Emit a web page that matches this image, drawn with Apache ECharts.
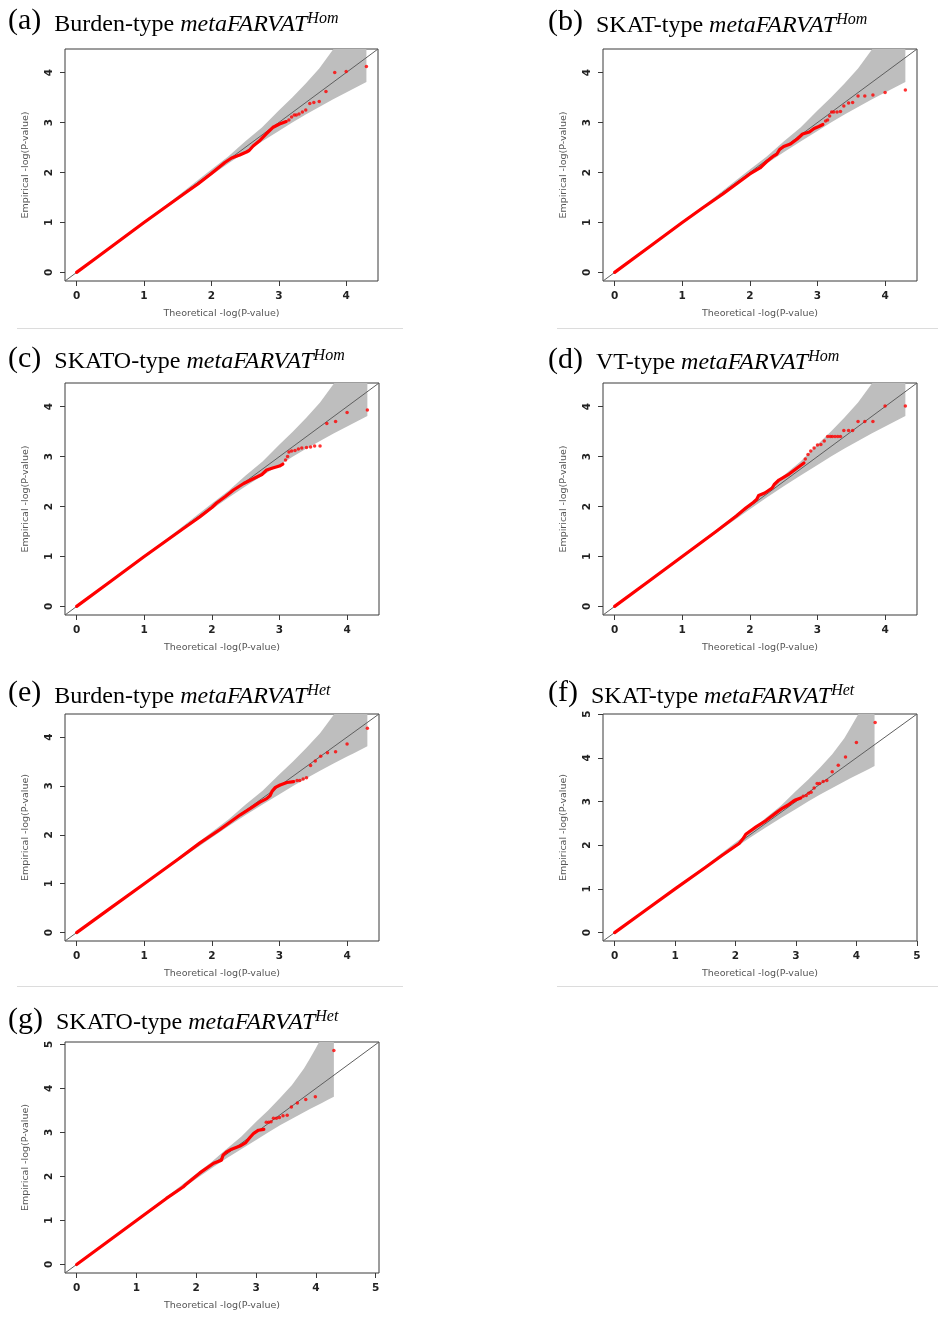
<!DOCTYPE html>
<html>
<head>
<meta charset="utf-8">
<script src="https://cdn.jsdelivr.net/npm/echarts@6/dist/echarts.min.js"></script>
<style>
  html, body { margin: 0; padding: 0; background: #ffffff; }
  #chart { width: 938px; height: 1318px; }
</style>
</head>
<body>
<div id="chart"></div>
<script>
// ---- Q-Q data: [theoretical, empirical] -log10(P) pairs ----
// dense* : the packed body of the point cloud; tail* : the separated top points

const denseA = [[0,0],[0.3,0.3],[0.6,0.6],[1.0,1.0],[1.3,1.29],[1.6,1.58],[1.8,1.77],[2.0,1.98],[2.2,2.2],[2.3,2.29],[2.42,2.35],[2.52,2.41],[2.56,2.44],[2.62,2.53],[2.71,2.63],[2.81,2.77],[2.91,2.9],[3.01,2.97],[3.11,3.02]];
const tailA  = [[3.15,3.05],[3.19,3.11],[3.23,3.15],[3.26,3.15],[3.30,3.17],[3.35,3.21],[3.40,3.25],[3.46,3.38],[3.52,3.40],[3.60,3.42],[3.70,3.62],[3.83,4.0],[4.0,4.02],[4.3,4.12]];

const denseB = [[0,0],[0.5,0.5],[1.0,1.0],[1.3,1.29],[1.6,1.57],[1.8,1.77],[2.0,1.97],[2.15,2.09],[2.25,2.22],[2.35,2.33],[2.4,2.37],[2.44,2.46],[2.5,2.52],[2.6,2.57],[2.7,2.67],[2.78,2.77],[2.88,2.81],[2.95,2.88],[3.02,2.92],[3.08,2.96]];
const tailB  = [[3.12,3.03],[3.15,3.05],[3.18,3.13],[3.21,3.21],[3.24,3.21],[3.29,3.21],[3.34,3.22],[3.39,3.33],[3.46,3.39],[3.52,3.40],[3.60,3.53],[3.70,3.53],[3.82,3.55],[4.0,3.6],[4.3,3.65]];

const denseC = [[0,0],[0.5,0.5],[1.0,1.0],[1.3,1.29],[1.6,1.58],[1.82,1.79],[2.0,1.98],[2.07,2.07],[2.2,2.2],[2.32,2.33],[2.47,2.46],[2.62,2.56],[2.74,2.64],[2.81,2.73],[2.9,2.77],[3.0,2.81],[3.05,2.85]];
const tailC  = [[3.09,2.93],[3.12,3.0],[3.14,3.09],[3.18,3.11],[3.23,3.12],[3.28,3.15],[3.33,3.17],[3.40,3.18],[3.46,3.19],[3.52,3.21],[3.60,3.21],[3.70,3.66],[3.83,3.70],[4.0,3.88],[4.3,3.93]];

const denseD = [[0,0],[0.5,0.5],[1.0,1.0],[1.5,1.5],[1.8,1.81],[1.94,1.97],[2.05,2.08],[2.1,2.14],[2.13,2.22],[2.22,2.27],[2.33,2.37],[2.36,2.44],[2.43,2.53],[2.58,2.65],[2.68,2.75],[2.75,2.82],[2.8,2.87]];
const tailD  = [[2.82,2.95],[2.86,3.04],[2.90,3.11],[2.95,3.17],[3.0,3.23],[3.05,3.24],[3.10,3.31],[3.15,3.40],[3.19,3.40],[3.22,3.40],[3.26,3.40],[3.30,3.40],[3.34,3.40],[3.39,3.52],[3.46,3.52],[3.52,3.52],[3.60,3.70],[3.70,3.70],[3.82,3.70],[4.0,4.01],[4.3,4.01]];

const denseE = [[0,0],[0.5,0.5],[1.0,1.0],[1.5,1.5],[1.82,1.83],[2.12,2.11],[2.42,2.41],[2.57,2.54],[2.71,2.67],[2.81,2.74],[2.86,2.8],[2.89,2.89],[2.94,2.97],[3.01,3.02],[3.11,3.07],[3.21,3.09]];
const tailE  = [[3.26,3.11],[3.30,3.11],[3.35,3.14],[3.40,3.17],[3.46,3.42],[3.53,3.51],[3.61,3.61],[3.71,3.68],[3.83,3.70],[4.0,3.86],[4.3,4.18]];

const denseF = [[0,0],[0.5,0.5],[1.0,1.0],[1.5,1.49],[1.78,1.77],[2.06,2.04],[2.12,2.14],[2.17,2.25],[2.34,2.42],[2.51,2.57],[2.67,2.74],[2.78,2.85],[2.87,2.92],[2.95,3.0],[3.0,3.04],[3.08,3.08]];
const tailF  = [[3.12,3.12],[3.17,3.14],[3.21,3.19],[3.25,3.21],[3.30,3.31],[3.35,3.41],[3.39,3.41],[3.45,3.46],[3.51,3.48],[3.60,3.68],[3.70,3.83],[3.82,4.02],[4.0,4.35],[4.31,4.81]];

const denseG = [[0,0],[0.5,0.5],[1.0,1.0],[1.5,1.5],[1.78,1.76],[1.82,1.81],[2.06,2.08],[2.29,2.30],[2.42,2.37],[2.45,2.49],[2.51,2.56],[2.59,2.62],[2.73,2.69],[2.82,2.76],[2.9,2.89],[2.96,2.98],[3.04,3.05],[3.13,3.07]];
const tailG  = [[3.17,3.23],[3.21,3.23],[3.25,3.24],[3.29,3.32],[3.34,3.32],[3.39,3.34],[3.45,3.38],[3.52,3.39],[3.59,3.58],[3.69,3.67],[3.83,3.75],[3.99,3.81],[4.3,4.86]];

// 95% confidence band around the null diagonal (shared by all panels)
const bandX  = [0, 1.0, 1.5, 2.0, 2.25, 2.5, 2.75, 3.0, 3.2, 3.4, 3.6, 3.8, 3.9, 4.0, 4.1, 4.2, 4.3];
const bandLo = [0, 0.985, 1.47, 1.945, 2.18, 2.405, 2.62, 2.83, 3.0, 3.16, 3.31, 3.46, 3.53, 3.6, 3.67, 3.74, 3.81];
const bandHi = [0, 1.015, 1.53, 2.06, 2.32, 2.62, 2.9, 3.24, 3.5, 3.78, 4.08, 4.45, 4.68, 4.92, 5.17, 5.45, 5.9];

// tick labels
const ticks4 = [0, 1, 2, 3, 4];
const ticks5 = [0, 1, 2, 3, 4, 5];

// panel tags and titles
const tags   = ['(a)', '(b)', '(c)', '(d)', '(e)', '(f)', '(g)'];
const kinds  = ['Burden-type', 'SKAT-type', 'SKATO-type', 'VT-type', 'Burden-type', 'SKAT-type', 'SKATO-type'];
const models = ['Hom', 'Hom', 'Hom', 'Hom', 'Het', 'Het', 'Het'];

const panels = [
  { dense: denseA, tail: tailA, ticks: ticks4 },
  { dense: denseB, tail: tailB, ticks: ticks4 },
  { dense: denseC, tail: tailC, ticks: ticks4 },
  { dense: denseD, tail: tailD, ticks: ticks4 },
  { dense: denseE, tail: tailE, ticks: ticks4 },
  { dense: denseF, tail: tailF, ticks: ticks5 },
  { dense: denseG, tail: tailG, ticks: ticks5 }
];

// plot-region boxes (px) and title anchors
const boxes = [
  { left: 65,  top: 49,   width: 313, height: 232, tx: 8,   ty: 10.5 },
  { left: 603, top: 49,   width: 314, height: 232, tx: 548, ty: 11.5 },
  { left: 65,  top: 383,  width: 314, height: 232, tx: 8,   ty: 348 },
  { left: 603, top: 383,  width: 314, height: 232, tx: 548, ty: 349 },
  { left: 65,  top: 714,  width: 314, height: 227, tx: 8,   ty: 682.5 },
  { left: 603, top: 714,  width: 314, height: 227, tx: 548, ty: 682.5 },
  { left: 65,  top: 1042, width: 314, height: 231, tx: 8,   ty: 1009 }
];

const serif = "'Liberation Serif', 'Times New Roman', serif";
const sans = "'DejaVu Sans', sans-serif";

const grids = [], xAxes = [], yAxes = [], series = [], titles = [];

panels.forEach((p, i) => {
  const b = boxes[i];
  // R-style limits: common range of both axes, padded by 4%
  let top = 0;
  p.dense.concat(p.tail).forEach(d => { top = Math.max(top, d[0], d[1]); });
  const pad = top * 0.04;
  const lo = -pad, hi = top + pad;

  grids.push({
    left: b.left, top: b.top, width: b.width, height: b.height,
    show: true, borderColor: '#3a3a3a', borderWidth: 1, backgroundColor: 'transparent'
  });

  const tickStyle = { show: true, inside: false, length: 5, lineStyle: { color: '#3a3a3a', width: 1 }, customValues: p.ticks };
  const labelStyle = { customValues: p.ticks, fontFamily: sans, fontSize: 10.5, fontWeight: 'bold', color: '#222' };
  const nameStyle = { fontFamily: sans, fontSize: 9.5, color: '#555' };

  xAxes.push({
    type: 'value', gridIndex: i, min: lo, max: hi,
    splitLine: { show: false },
    axisLine: { show: false, onZero: false },
    axisTick: tickStyle,
    axisLabel: Object.assign({ margin: 10 }, labelStyle),
    name: 'Theoretical -log(P-value)', nameLocation: 'middle', nameGap: 28,
    nameTextStyle: nameStyle
  });
  yAxes.push({
    type: 'value', gridIndex: i, min: lo, max: hi,
    splitLine: { show: false },
    axisLine: { show: false, onZero: false },
    axisTick: tickStyle,
    axisLabel: Object.assign({ margin: 10, rotate: 90 }, labelStyle),
    name: 'Empirical -log(P-value)', nameLocation: 'middle', nameGap: 34, nameRotate: 90,
    nameTextStyle: nameStyle
  });

  // confidence band polygon
  series.push({
    type: 'custom', xAxisIndex: i, yAxisIndex: i, clip: true, z: 1, silent: true,
    data: [[0, 0]],
    renderItem: function (params, api) {
      const pts = [];
      for (let k = 0; k < bandX.length; k++) pts.push(api.coord([bandX[k], bandHi[k]]));
      for (let k = bandX.length - 1; k >= 0; k--) pts.push(api.coord([bandX[k], bandLo[k]]));
      return { type: 'polygon', shape: { points: pts, smooth: 0 }, style: { fill: '#bebebe', stroke: null } };
    }
  });
  // null diagonal y = x across the plot region
  series.push({
    type: 'line', xAxisIndex: i, yAxisIndex: i, z: 2, silent: true,
    data: [[lo, lo], [hi, hi]], symbol: 'none', clip: true,
    lineStyle: { color: '#5e5e5e', width: 1 }
  });
  // packed body of the observed points
  series.push({
    type: 'line', xAxisIndex: i, yAxisIndex: i, z: 3, silent: true,
    data: p.dense, symbol: 'none', clip: true,
    lineStyle: { color: '#ff0000', width: 3.2, cap: 'round', join: 'round' }
  });
  // separated top points
  series.push({
    type: 'scatter', xAxisIndex: i, yAxisIndex: i, z: 4, silent: true,
    data: p.tail, symbol: 'circle', symbolSize: 3.5,
    itemStyle: { color: '#ff0000' }
  });

  // panel heading: main words sit on the line bottom, the superscript hangs from the line top
  titles.push({
    left: b.tx, top: b.ty, padding: 0,
    text: '{tag|' + tags[i] + '}{kind|' + kinds[i] + ' }{ital|metaFARVAT}{sup|' + models[i] + '}',
    textStyle: {
      rich: {
        tag:  { fontFamily: serif, fontSize: 30, fontWeight: 'normal', color: '#000', lineHeight: 26, verticalAlign: 'bottom', padding: [0, 13, 0, 0] },
        kind: { fontFamily: serif, fontSize: 24, fontWeight: 'normal', color: '#000', lineHeight: 26, verticalAlign: 'bottom' },
        ital: { fontFamily: serif, fontSize: 24, fontWeight: 'normal', color: '#000', fontStyle: 'italic', lineHeight: 26, verticalAlign: 'bottom' },
        sup:  { fontFamily: serif, fontSize: 16, fontWeight: 'normal', color: '#000', fontStyle: 'italic', lineHeight: 26, verticalAlign: 'top' }
      }
    }
  });
});

const sepStyle = { stroke: '#dcdcdc', lineWidth: 1 };
const option = {
  animation: false,
  backgroundColor: '#ffffff',
  title: titles,
  grid: grids,
  xAxis: xAxes,
  yAxis: yAxes,
  series: series,
  graphic: [
    { type: 'line', shape: { x1: 17,  y1: 328.5, x2: 403, y2: 328.5 }, style: sepStyle, silent: true },
    { type: 'line', shape: { x1: 557, y1: 328.5, x2: 938, y2: 328.5 }, style: sepStyle, silent: true },
    { type: 'line', shape: { x1: 17,  y1: 986.5, x2: 403, y2: 986.5 }, style: sepStyle, silent: true },
    { type: 'line', shape: { x1: 557, y1: 986.5, x2: 938, y2: 986.5 }, style: sepStyle, silent: true }
  ]
};

const chart = echarts.init(document.getElementById('chart'), null, { renderer: 'canvas' });
chart.setOption(option);
</script>
</body>
</html>
